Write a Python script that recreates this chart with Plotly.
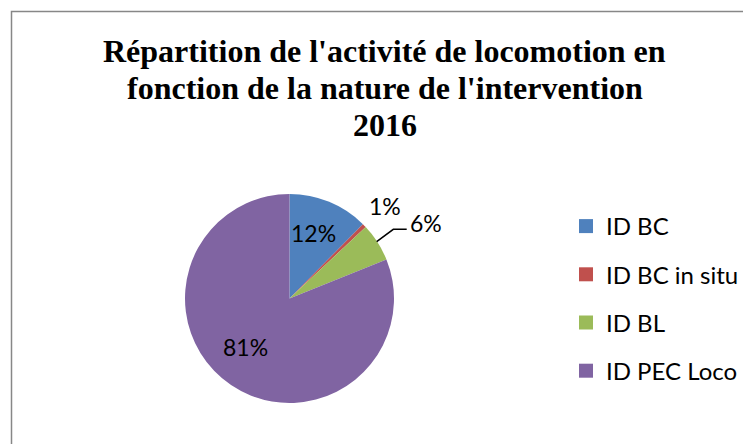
import plotly.graph_objects as go

# ---- data ----
labels = ["ID BC", "ID BC in situ", "ID BL", "ID PEC Loco"]
values = [12.4, 0.6, 5.9, 81.1]
colors = ["#4F81BD", "#C0504D", "#9BBB59", "#8064A2"]
title_lines = [
    "Répartition de l'activité de locomotion en",
    "fonction de la nature de l'intervention",
    "2016",
]

# ---- pixel helpers (page body has an 8px margin) ----
OFF = 8
W, H = 751 - OFF, 444 - OFF


def px(x):
    return (x - OFF) / W


def py(y):
    return 1 - (y - OFF) / H


total = sum(values)
pct_text = [f"{round(v / total * 100)}%" for v in values]

fig = go.Figure()

fig.add_trace(
    go.Pie(
        labels=labels,
        values=values,
        sort=False,
        direction="clockwise",
        rotation=0,
        marker=dict(colors=colors, line=dict(width=0)),
        textinfo="none",
        hoverinfo="label+percent",
        domain=dict(x=[px(185), px(394)], y=[py(403), py(194)]),
        showlegend=False,
    )
)

# legend entries (one per category)
for i, (lab, col) in enumerate(zip(labels, colors)):
    fig.add_trace(
        go.Scatter(
            x=[None],
            y=[None],
            mode="markers",
            name=lab,
            legendgroup=f"g{i}",
            marker=dict(symbol="square", size=14, color=col),
            hoverinfo="skip",
        )
    )

# data labels
label_pos = [(313.3, 233), (385, 206), (425.5, 222.5), (245, 346.7)]
annotations = []
for t, (lx, ly) in zip(pct_text, label_pos):
    annotations.append(
        dict(
            x=px(lx), y=py(ly), xref="paper", yref="paper",
            text=t, showarrow=False, xanchor="center", yanchor="middle",
            font=dict(family="Lato", size=23, color="#000000"),
        )
    )

# title lines
title_y = [51.5, 88.1, 124.8]
for t, ty in zip(title_lines, title_y):
    annotations.append(
        dict(
            x=px(385), y=py(ty), xref="paper", yref="paper",
            text=f"<b>{t}</b>", showarrow=False, xanchor="center", yanchor="middle",
            font=dict(family="Liberation Serif", size=32, color="#000000"),
        )
    )

shapes = [
    # chart border (left and top visible)
    dict(
        type="path", xref="paper", yref="paper",
        path=f"M {px(11.5)},0 L {px(11.5)},{py(11.5)} L 1,{py(11.5)}",
        line=dict(color="#878787", width=1.5),
    ),
    # leader line for the 6% label
    dict(
        type="path", xref="paper", yref="paper",
        path=f"M {px(376.7)},{py(241.7)} L {px(393.3)},{py(229.3)} L {px(406.7)},{py(229.3)}",
        line=dict(color="#000000", width=1.5),
    ),
]

fig.update_layout(
    width=W,
    height=H,
    margin=dict(l=0, r=0, t=0, b=0),
    paper_bgcolor="white",
    plot_bgcolor="white",
    xaxis=dict(visible=False),
    yaxis=dict(visible=False),
    showlegend=True,
    legend=dict(
        x=px(566), y=py(204), xanchor="left", yanchor="top",
        traceorder="grouped", tracegroupgap=14,
        font=dict(family="Lato", size=24, color="#000000"),
        bgcolor="rgba(0,0,0,0)",
    ),
    annotations=annotations,
    shapes=shapes,
)

fig.write_html("out.html")
